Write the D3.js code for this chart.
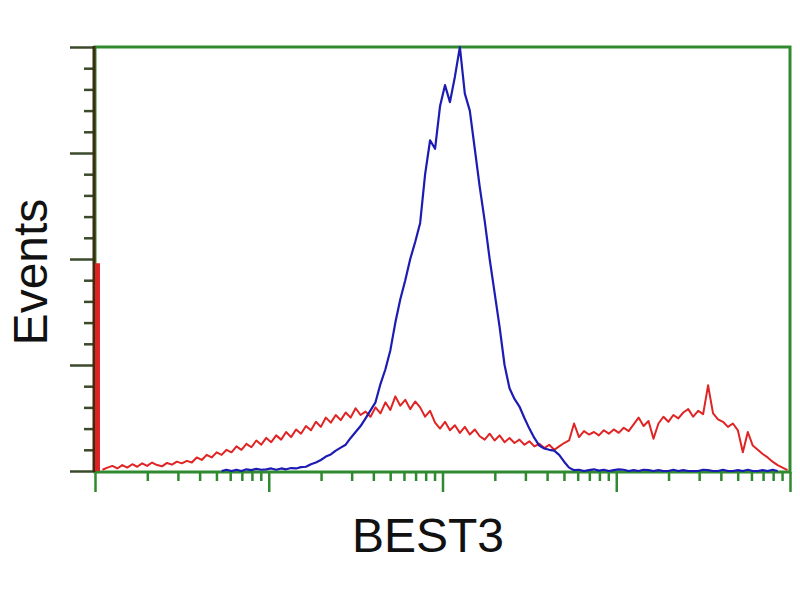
<!DOCTYPE html>
<html>
<head>
<meta charset="utf-8">
<script src="https://cdn.jsdelivr.net/npm/d3@7"></script>
<style>
  body { margin: 0; background: #fff; }
  svg { display: block; }
  .label { font-family: "Liberation Sans", Arial, sans-serif; font-size: 48px; fill: #111; }
</style>
</head>
<body>
<svg width="800" height="600"></svg>
<script>
// histogram: 140 channels spread over 4 log decades (1 .. 10^4)
var binCount = 140

// red: control / isotype (bin 0 holds the off-scale low events)
var redCounts = [
  49, 0.3, 0.8, 1.2, 0.6, 1.4, 0.8, 1.6, 1.0, 1.8,
  1.2, 2.0, 1.4, 1.1, 1.9, 1.5, 2.2, 1.8, 2.4, 2.0,
  3.2, 2.6, 3.8, 3.2, 4.4, 3.8, 5.0, 4.4, 5.8, 5.0,
  6.4, 5.6, 7.2, 6.2, 7.8, 6.8, 8.4, 7.4, 9.2, 8.0,
  9.8, 8.8, 10.6, 9.6, 11.6, 10.4, 12.6, 11.4, 13.2, 12.0,
  13.8, 12.6, 14.8, 13.2, 14.0, 12.8, 15.0, 13.6, 16.2, 14.4,
  17.6, 15.4, 16.8, 14.6, 16.4, 15.0, 12.8, 14.2, 11.4, 10.0,
  11.6, 9.6, 10.8, 9.0, 10.4, 8.6, 9.8, 8.2, 7.4, 8.8,
  7.2, 8.4, 6.8, 7.8, 6.6, 7.4, 6.2, 7.0, 5.8, 6.4,
  5.4, 6.2, 5.0, 5.8, 6.6, 7.2, 11.2, 8.0, 9.4, 8.6,
  9.2, 8.4, 9.6, 8.8, 9.8, 9.0, 10.2, 9.4, 11.0, 12.6,
  10.6, 11.8, 7.6, 11.2, 12.8, 11.6, 13.2, 12.4, 13.8, 14.6,
  12.8, 14.2, 13.4, 20.2, 13.6, 12.2, 11.6, 10.4, 11.2, 9.6,
  4.4, 9.2, 6.0, 5.0, 4.0, 3.2, 2.2, 1.4, 0.8, 0.2
]

// blue: BEST3 stained cells (null = no events drawn)
var blueCounts = [
  null, null, null, null, null, null, null, null, null, null,
  null, null, null, null, null, null, null, null, null, null,
  null, null, null, null, null, 0, 0.3, 0, 0.3, 0,
  0.4, 0.2, 0.5, 0.3, 0.4, 0.6, 0.3, 0.6, 0.4, 0.7,
  0.6, 0.9, 1.0, 1.6, 2.0, 2.6, 3.4, 3.9, 4.8, 5.5,
  6.2, 7.8, 9.2, 10.6, 12.4, 14.3, 16.2, 20.5, 24, 28.5,
  35, 40.5, 45, 50, 54, 58.5, 70, 78, 76, 86,
  91, 87, 93, 100, 89, 85, 76, 67, 59, 50,
  42, 34, 25, 19.5, 17, 15.2, 12.5, 10, 7.8, 6,
  5.3, 5, 4.8, 3.8, 2.2, 0.8, 0.2, 0.3, 0, 0.2,
  0.4, 0.1, 0.3, 0, 0.2, 0.4, 0.3, 0, 0.2, 0,
  0.3, 0.2, 0, 0.2, 0, 0, 0.3, 0, 0.2, 0,
  0, 0, 0.3, 0.2, 0, 0, 0.3, 0, 0, 0.2,
  0, 0.3, 0, 0, 0.2, 0, 0.3, 0, null, null
]

var xMajorTicks = [1, 10, 100, 1000, 10000]
var yMajorTicks = [0, 25, 50, 75, 100]
var yMinorTicks = [5, 10, 15, 20, 30, 35, 40, 45, 55, 60, 65, 70, 80, 85, 90, 95]

var xLabel = 'BEST3'
var yLabel = 'Events'

var plotLeft = 95, plotRight = 790, plotTop = 47, plotBottom = 471

var svg = d3.select('svg')

var xBin = d3.scaleLinear().domain([0, binCount]).range([plotLeft, plotRight])
var xLog = d3.scaleLog().domain([1, 10000]).range([plotLeft, plotRight])
var y = d3.scaleLinear().domain([0, 100]).range([plotBottom, plotTop])

var xMinorTicks = xLog.ticks().filter(function(t) { return xMajorTicks.indexOf(t) < 0 })

// frame
svg.append('rect')
  .attr('x', plotLeft).attr('y', plotTop)
  .attr('width', plotRight - plotLeft).attr('height', plotBottom - plotTop + 1)
  .attr('fill', 'none')
  .attr('stroke', '#2f8a2f')
  .attr('stroke-width', 3)

// x axis ticks
var gx = svg.append('g').attr('transform', 'translate(0,' + (plotBottom + 1) + ')')
gx.append('g')
  .call(d3.axisBottom(xLog).tickValues(xMajorTicks).tickSize(20).tickFormat(''))
gx.append('g')
  .call(d3.axisBottom(xLog).tickValues(xMinorTicks).tickSize(9).tickFormat(''))
gx.selectAll('.domain').remove()
gx.selectAll('line').attr('stroke', '#2f8a2f').attr('stroke-width', 2.5)

// y axis ticks
var gy = svg.append('g').attr('transform', 'translate(' + (plotLeft - 1) + ',0)')
gy.append('g')
  .call(d3.axisLeft(y).tickValues(yMajorTicks).tickSize(24).tickFormat(''))
gy.append('g')
  .call(d3.axisLeft(y).tickValues(yMinorTicks).tickSize(10).tickFormat(''))
gy.selectAll('.domain').remove()
gy.selectAll('line').attr('stroke', '#3a4a2a').attr('stroke-width', 2.5)

// left axis line
svg.append('line')
  .attr('x1', plotLeft - 1).attr('x2', plotLeft - 1)
  .attr('y1', plotTop - 1).attr('y2', plotBottom + 1)
  .attr('stroke', '#3d2c10')
  .attr('stroke-width', 3)

// red: first channel as a bar, the rest as a line
svg.append('rect')
  .attr('x', xBin(0))
  .attr('y', y(redCounts[0]))
  .attr('width', xBin(1) - xBin(0))
  .attr('height', y(0) - y(redCounts[0]))
  .attr('fill', '#dd2222')

var line = d3.line()
  .defined(function(d) { return d.v != null })
  .x(function(d) { return xBin(d.i + 0.5) })
  .y(function(d) { return y(d.v) })

var redPts = redCounts.map(function(v, i) { return {i: i, v: v} }).slice(1)
svg.append('path')
  .attr('d', line(redPts))
  .attr('fill', 'none')
  .attr('stroke', '#e02424')
  .attr('stroke-width', 2)
  .attr('stroke-linejoin', 'round')

var bluePts = blueCounts.map(function(v, i) { return {i: i, v: v} })
svg.append('path')
  .attr('d', line(bluePts))
  .attr('fill', 'none')
  .attr('stroke', '#1c1cb4')
  .attr('stroke-width', 2.2)
  .attr('stroke-linejoin', 'round')

// labels
svg.append('text')
  .attr('class', 'label')
  .attr('x', 428).attr('y', 552)
  .attr('text-anchor', 'middle')
  .text(xLabel)

svg.append('text')
  .attr('class', 'label')
  .attr('transform', 'translate(47,272) rotate(-90)')
  .attr('text-anchor', 'middle')
  .text(yLabel)
</script>
</body>
</html>
